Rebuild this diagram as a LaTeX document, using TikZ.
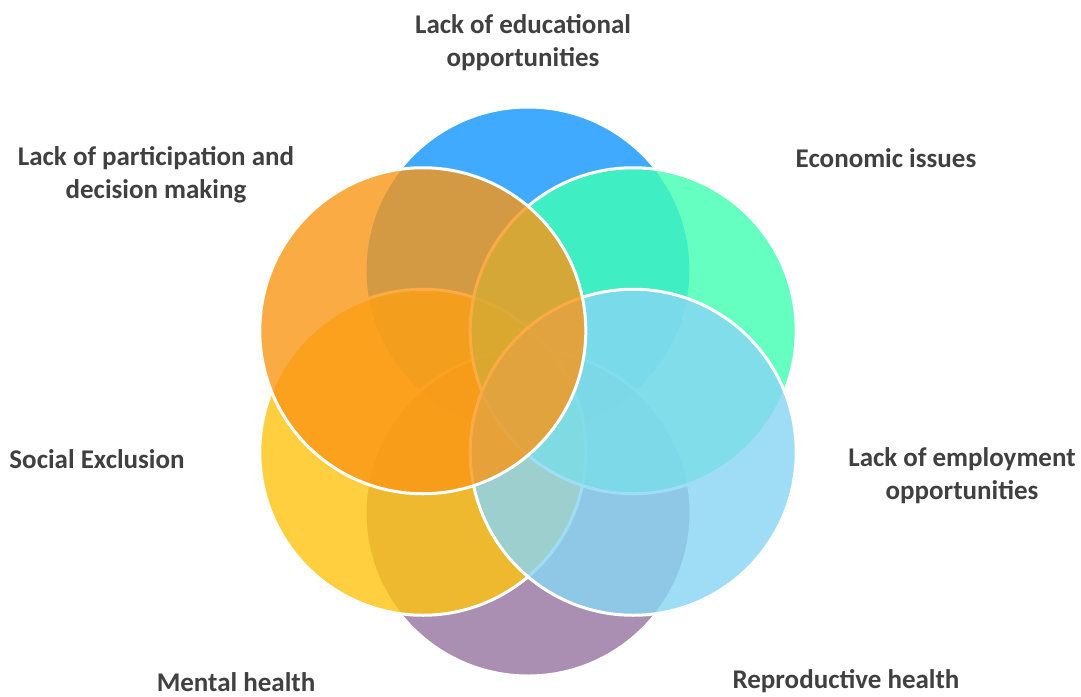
\documentclass[tikz,border=0pt]{standalone}
\usepackage{fontspec}
\setmainfont{Carlito}
\definecolor{cBlue}{RGB}{15,149,255}
\definecolor{cGreen}{RGB}{64,255,179}
\definecolor{cLBlue}{RGB}{136,213,245}
\definecolor{cPurple}{RGB}{150,115,159}
\definecolor{cYellow}{RGB}{255,196,15}
\definecolor{cOrange}{RGB}{250,150,21}
\definecolor{txt}{RGB}{64,64,64}
\tikzset{
  bub/.style={circle, inner sep=0pt, minimum size=326pt, draw=white, line width=3pt, fill opacity=0.8},
  lbl/.style={text=txt, align=center, font=\fontsize{27}{33}\selectfont\bfseries, inner sep=0pt}
}
\begin{document}
\begin{tikzpicture}[x=1pt,y=-1pt]
\useasboundingbox[fill=white] (0,0) rectangle (1081,696);
% circles, back to front
\node[bub, fill=cBlue]   (edu)  at (528,270) {};
\node[bub, fill=cPurple] (repr) at (528,513) {};
\node[bub, fill=cYellow] (soc)  at (422.8,452.25) {};
\node[bub, fill=cGreen]  (eco)  at (633.2,330.75) {};
\node[bub, fill=cLBlue]  (emp)  at (633.2,452.25) {};
\node[bub, fill=cOrange] (part) at (422.8,330.75) {};
% labels
\node[lbl] (tedu)  at (523,43)  {Lack of educational\\opportunities};
\node[lbl] (tpart) at (156,175) {Lack of participation and\\decision making};
\node[lbl] (teco)  at (886,158) {Economic issues};
\node[lbl] (tsoc)  at (97,459)  {Social Exclusion};
\node[lbl] (temp)  at (962,476) {Lack of employment\\opportunities};
\node[lbl] (tment) at (236,682) {Mental health};
\node[lbl] (trepr) at (846,681) {Reproductive health};
\end{tikzpicture}
\end{document}
